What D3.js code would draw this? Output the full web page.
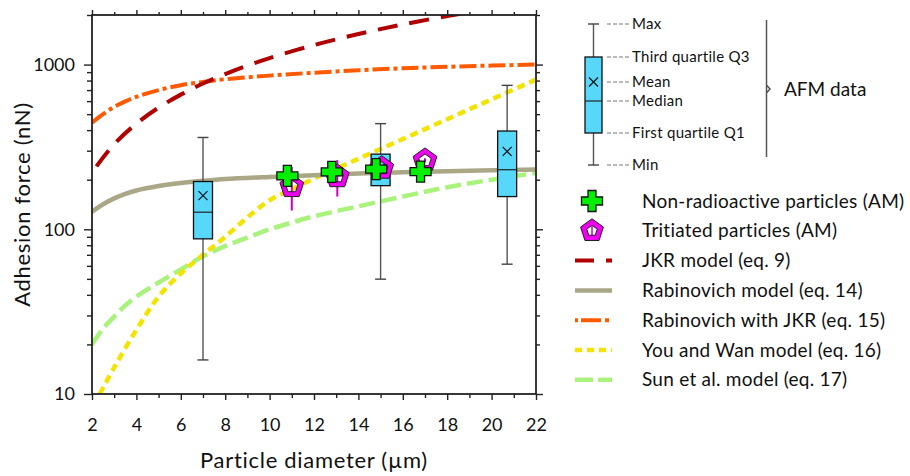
<!DOCTYPE html>
<html>
<head>
<meta charset="utf-8">
<script src="https://cdn.jsdelivr.net/npm/d3@7"></script>
<style>
  body { margin: 0; background: #fff; }
  svg { display: block; font-family: Lato, "Open Sans", sans-serif; }
</style>
</head>
<body>
<svg id="chart" width="910" height="476"></svg>
<script>
// ---- Model curves: particle diameter (µm) -> adhesion force (nN) ----
const jkrDiameter = [2.2, 3, 4, 5, 6, 7, 8, 9, 10, 12, 14, 16, 18, 19];
const jkrForce    = [241, 329, 438, 548, 657, 767, 876, 986, 1095, 1314, 1533, 1752, 1971, 2080];

const rabDiameter = [2, 2.5, 3, 3.5, 4, 5, 6, 7, 8, 10, 12, 14, 16, 18, 20, 22];
const rabForce    = [128, 142, 154, 164, 172, 183, 191, 197, 202, 208, 213, 218, 222, 225, 228, 231];

const rabJkrDiameter = [2, 2.5, 3, 3.5, 4, 5, 6, 7, 8, 10, 12, 14, 16, 18, 20, 22];
const rabJkrForce    = [444, 500, 553, 598, 637, 700, 750, 785, 815, 857, 893, 923, 950, 970, 986, 1000];

const youWanDiameter = [2.35, 3, 4, 5, 6, 7, 8, 9, 10, 11, 12, 14, 16, 18, 20, 22];
const youWanForce    = [10, 14.5, 24.5, 39, 54, 70, 90, 118, 150, 175, 203, 268, 353, 466, 615, 811];

const sunDiameter = [2, 2.5, 3, 3.5, 4, 5, 6, 7, 8, 9, 10, 11, 12, 14, 16, 18, 20, 22];
const sunForce    = [20, 25, 29.5, 34.5, 39, 47.5, 57, 68.5, 79, 89, 100, 110, 120, 138, 158, 180, 200, 220];

// ---- AFM box plots ----
const boxDiameter = [7.0, 15.0, 20.7];
const boxMin      = [16.1, 49.8, 61.4];
const boxQ1       = [87.5, 184, 158];
const boxMedian   = [127, 222, 230];
const boxMean     = [160, 236, 297];
const boxQ3       = [195, 286, 395];
const boxMax      = [361, 438, 748];

// ---- Aerosol-method points ----
const nonRadDiameter = [10.8, 12.8, 14.8, 16.8];
const nonRadForce    = [211, 223, 232, 224];

const tritDiameter = [11.0, 13.05, 15.05, 17.0];
const tritForce    = [182, 209, 235, 262];
const tritLow      = [130, 158, 225, 255];
const tritHigh     = [240, 263, 245, 270];

// ---- Axis ticks ----
const xMajorTicks = [2, 4, 6, 8, 10, 12, 14, 16, 18, 20, 22];
const xMinorTicks = [3, 5, 7, 9, 11, 13, 15, 17, 19, 21];
const yMajorTicks = [10, 100, 1000];
const yMinorTicks = [20, 30, 40, 50, 60, 70, 80, 90, 200, 300, 400, 500, 600, 700, 800, 900, 2000];

// ---- Styles ----
const colors = {
  jkr: "#b00000", rab: "#aaa787", rabJkr: "#ff5a00", youWan: "#f2e400", sun: "#a9f27c",
  box: "#57d8fb", cross: "#00f000", penta: "#f000f0"
};

const svg = d3.select("#chart");
const L = 92, R = 536, T = 15, B = 394;
const x = d3.scaleLinear().domain([2, 22]).range([L, R]);
const y = d3.scaleLog().domain([10, 2000]).range([B, T]);

svg.append("defs").append("clipPath").attr("id", "plotClip")
  .append("rect").attr("x", L).attr("y", T).attr("width", R - L).attr("height", B - T);

const plot = svg.append("g").attr("clip-path", "url(#plotClip)");

const line = d3.line().x(d => x(d[0])).y(d => y(d[1])).curve(d3.curveCatmullRom.alpha(0.5));
const zip = (a, b) => a.map((v, i) => [v, b[i]]);

const curves = [
  { data: zip(sunDiameter, sunForce), color: colors.sun, dash: "16,6", w: 4.5 },
  { data: zip(youWanDiameter, youWanForce), color: colors.youWan, dash: "8,5", w: 4.5 },
  { data: zip(rabDiameter, rabForce), color: colors.rab, dash: null, w: 4.5 },
  { data: zip(rabJkrDiameter, rabJkrForce), color: colors.rabJkr, dash: "17,4,4,4", w: 4 },
  { data: zip(jkrDiameter, jkrForce), color: colors.jkr, dash: "20,12", w: 4 }
];
curves.forEach(c => {
  plot.append("path").attr("d", line(c.data)).attr("fill", "none")
    .attr("stroke", c.color).attr("stroke-width", c.w)
    .attr("stroke-dasharray", c.dash);
});

// box plots
const boxW = 19, capW = 11;
function drawBox(g, cx, yMin, yQ1, yMed, yMean, yQ3, yMax, bw, cw) {
  g.append("line").attr("x1", cx).attr("x2", cx).attr("y1", yMax).attr("y2", yMin)
    .attr("stroke", "#555").attr("stroke-width", 1.4);
  [yMax, yMin].forEach(v => g.append("line").attr("x1", cx - cw / 2).attr("x2", cx + cw / 2)
    .attr("y1", v).attr("y2", v).attr("stroke", "#444").attr("stroke-width", 1.4));
  g.append("rect").attr("x", cx - bw / 2).attr("y", yQ3).attr("width", bw).attr("height", yQ1 - yQ3)
    .attr("fill", colors.box).attr("stroke", "#111").attr("stroke-width", 1.3);
  g.append("line").attr("x1", cx - bw / 2).attr("x2", cx + bw / 2).attr("y1", yMed).attr("y2", yMed)
    .attr("stroke", "#222").attr("stroke-width", 1.2);
  const s = 4.5;
  g.append("path").attr("d", `M${cx - s},${yMean - s}L${cx + s},${yMean + s}M${cx - s},${yMean + s}L${cx + s},${yMean - s}`)
    .attr("stroke", "#111").attr("stroke-width", 1.2);
}
const boxes = plot.append("g");
boxDiameter.forEach((d, i) => {
  drawBox(boxes, x(d), y(boxMin[i]), y(boxQ1[i]), y(boxMedian[i]), y(boxMean[i]), y(boxQ3[i]), y(boxMax[i]), boxW, capW);
});

// marker shapes
function crossPath(s, a) {
  return `M${-a},${-s}H${a}V${-a}H${s}V${a}H${a}V${s}H${-a}V${a}H${-s}V${-a}H${-a}Z`;
}
function pentaPath(Ro, Ri) {
  const pts = r => d3.range(5).map(k => {
    const t = -Math.PI / 2 + k * 2 * Math.PI / 5;
    return [r * Math.cos(t), r * Math.sin(t)];
  });
  const p = a => "M" + a.map(q => q.join(",")).join("L") + "Z";
  return p(pts(Ro)) + p(pts(Ri).reverse());
}

const marks = plot.append("g");
tritDiameter.forEach((d, i) => {
  marks.append("line").attr("x1", x(d)).attr("x2", x(d)).attr("y1", y(tritLow[i])).attr("y2", y(tritHigh[i]))
    .attr("stroke", "#c800c8").attr("stroke-width", 2);
});
tritDiameter.forEach((d, i) => {
  marks.append("path").attr("d", pentaPath(12.5, 6.5)).attr("transform", `translate(${x(d)},${y(tritForce[i])})`)
    .attr("fill", colors.penta).attr("fill-rule", "evenodd").attr("stroke", "#222").attr("stroke-width", 1);
});
nonRadDiameter.forEach((d, i) => {
  marks.append("path").attr("d", crossPath(10.5, 4)).attr("transform", `translate(${x(d)},${y(nonRadForce[i])})`)
    .attr("fill", colors.cross).attr("stroke", "#111").attr("stroke-width", 1.3);
});

// axes
const fontTick = "18px";
function styleAxis(g) {
  g.selectAll(".domain").remove();
  g.selectAll("line").attr("stroke", "#222").attr("stroke-width", 1.4);
  g.selectAll("text").attr("fill", "#111").style("font-size", fontTick).style("font-family", "Lato, sans-serif");
}
svg.append("g").attr("transform", `translate(0,${B})`)
  .call(d3.axisBottom(x).tickValues(xMajorTicks).tickSize(6).tickPadding(18).tickFormat(d3.format("d"))).call(styleAxis);
svg.append("g").attr("transform", `translate(0,${B})`)
  .call(d3.axisBottom(x).tickValues(xMinorTicks).tickSize(4).tickFormat("")).call(styleAxis);
svg.append("g").attr("transform", `translate(0,${T})`)
  .call(d3.axisTop(x).tickValues(xMajorTicks).tickSize(5).tickFormat("")).call(styleAxis);
svg.append("g").attr("transform", `translate(0,${T})`)
  .call(d3.axisTop(x).tickValues(xMinorTicks).tickSize(3).tickFormat("")).call(styleAxis);
svg.append("g").attr("transform", `translate(${L},0)`)
  .call(d3.axisLeft(y).tickValues(yMajorTicks).tickSize(8).tickPadding(9).tickFormat(d3.format("d"))).call(styleAxis);
svg.append("g").attr("transform", `translate(${L},0)`)
  .call(d3.axisLeft(y).tickValues(yMinorTicks).tickSize(5).tickFormat("")).call(styleAxis);
svg.append("g").attr("transform", `translate(${R},0)`)
  .call(d3.axisRight(y).tickValues(yMajorTicks).tickSize(7).tickFormat("")).call(styleAxis);
svg.append("g").attr("transform", `translate(${R},0)`)
  .call(d3.axisRight(y).tickValues(yMinorTicks).tickSize(4).tickFormat("")).call(styleAxis);

svg.append("rect").attr("x", L).attr("y", T).attr("width", R - L).attr("height", B - T)
  .attr("fill", "none").attr("stroke", "#222").attr("stroke-width", 1.8);

// axis titles
svg.append("text").attr("x", (L + R) / 2).attr("y", 468).attr("text-anchor", "middle")
  .style("font-size", "22px").style("letter-spacing", "0.7px").attr("fill", "#111")
  .text("Particle diameter (\u00b5m)");
svg.append("text").attr("transform", `translate(30,${(T + B) / 2}) rotate(-90)`).attr("text-anchor", "middle")
  .style("font-size", "22px").style("letter-spacing", "0.7px").attr("fill", "#111")
  .text("Adhesion force (nN)");

// ---- legend: box plot key ----
const lg = svg.append("g");
const kx = 593.5;
const key = { max: 24, q3: 57, mean: 82, median: 101, q1: 133, min: 165 };
drawBox(lg, kx, key.min, key.q1, key.median, key.mean, key.q3, key.max, 17, 11);
const keyLabels = [
  ["Max", key.max], ["Third quartile Q3", key.q3], ["Mean", key.mean],
  ["Median", key.median], ["First quartile Q1", key.q1], ["Min", key.min]
];
keyLabels.forEach(([t, yy]) => {
  lg.append("line").attr("x1", 607).attr("x2", 630).attr("y1", yy).attr("y2", yy)
    .attr("stroke", "#777").attr("stroke-width", 1).attr("stroke-dasharray", "4,2");
  lg.append("text").attr("x", 632).attr("y", yy).attr("dy", "0.35em")
    .style("font-size", "15px").style("letter-spacing", "0.3px").attr("fill", "#111").text(t);
});
lg.append("path").attr("d", "M766.5,20V157M766.5,85L770,89L766.5,93")
  .attr("fill", "none").attr("stroke", "#555").attr("stroke-width", 1.5);
lg.append("text").attr("x", 784).attr("y", 89).attr("dy", "0.35em")
  .style("font-size", "19px").attr("fill", "#111").text("AFM data");

// ---- legend: series ----
const entries = [
  { label: "Non-radioactive particles (AM)", kind: "cross" },
  { label: "Tritiated particles (AM)", kind: "penta" },
  { label: "JKR model (eq. 9)", kind: "line", color: colors.jkr, dash: "19,12", w: 4 },
  { label: "Rabinovich model (eq. 14)", kind: "line", color: colors.rab, dash: null, w: 4.5 },
  { label: "Rabinovich with JKR (eq. 15)", kind: "line", color: colors.rabJkr, dash: "3,3,20,4,4", w: 4 },
  { label: "You and Wan model (eq. 16)", kind: "line", color: colors.youWan, dash: "7,5", w: 4.5 },
  { label: "Sun et al. model (eq. 17)", kind: "line", color: colors.sun, dash: "18,5", w: 4.5 }
];
entries.forEach((e, i) => {
  const yy = 201 + i * 29.8;
  if (e.kind === "cross") {
    lg.append("path").attr("d", crossPath(10.5, 4)).attr("transform", `translate(592,${yy})`)
      .attr("fill", colors.cross).attr("stroke", "#111").attr("stroke-width", 1.3);
  } else if (e.kind === "penta") {
    lg.append("line").attr("x1", 592).attr("x2", 592).attr("y1", yy - 7).attr("y2", yy + 7)
      .attr("stroke", "#c800c8").attr("stroke-width", 1.5);
    lg.append("path").attr("d", pentaPath(12, 5.5)).attr("transform", `translate(592,${yy})`)
      .attr("fill", colors.penta).attr("fill-rule", "evenodd").attr("stroke", "#222").attr("stroke-width", 1);
  } else {
    lg.append("line").attr("x1", 575).attr("x2", 612).attr("y1", yy).attr("y2", yy)
      .attr("stroke", e.color).attr("stroke-width", e.w).attr("stroke-dasharray", e.dash);
  }
  lg.append("text").attr("x", 642).attr("y", yy).attr("dy", "0.35em")
    .style("font-size", "19px").style("letter-spacing", "0.25px").attr("fill", "#111").text(e.label);
});
</script>
</body>
</html>
